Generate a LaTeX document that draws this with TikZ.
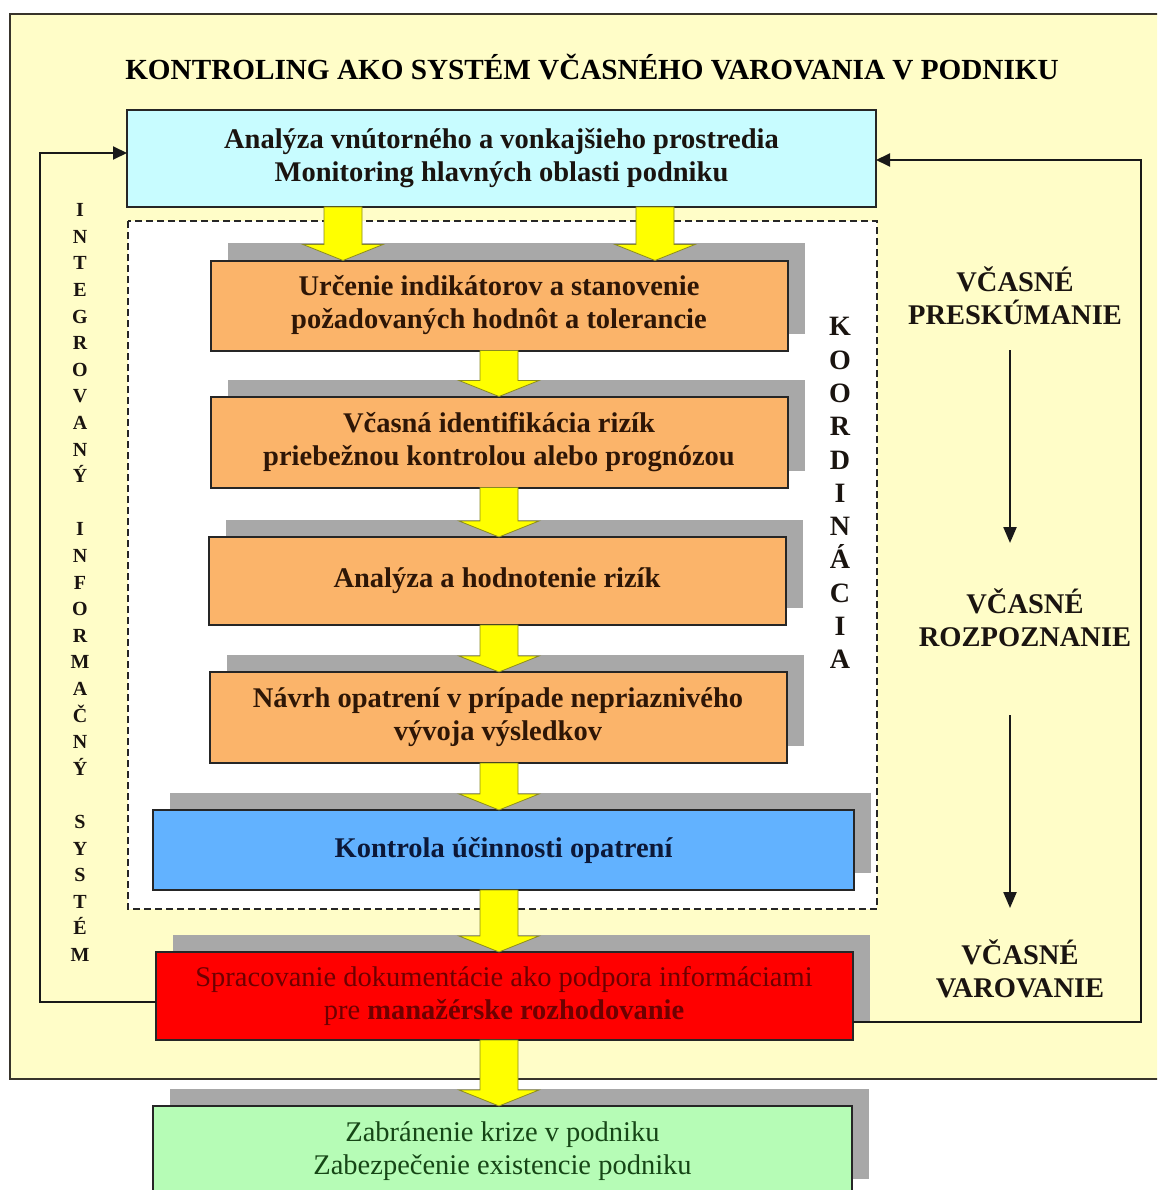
\documentclass[tikz,border=0pt]{standalone}
\usepackage{fontspec}
\setmainfont{Liberation Serif}
\usetikzlibrary{arrows.meta,shadows,calc}

\definecolor{framefill}{HTML}{FFFDC8}
\definecolor{cyanfill}{HTML}{C8FCFF}
\definecolor{orangefill}{HTML}{FBB46A}
\definecolor{bluefill}{HTML}{62B2FF}
\definecolor{redfill}{HTML}{FF0000}
\definecolor{greenfill}{HTML}{B6FCB6}
\definecolor{shadowgray}{HTML}{A8A8A8}
\definecolor{arrowyellow}{HTML}{FFFF00}
\definecolor{arrowedge}{HTML}{8A8A20}
\definecolor{darktext}{HTML}{1A1410}
\definecolor{browntext}{HTML}{2E1606}
\definecolor{navytext}{HTML}{0C1838}
\definecolor{maroontext}{HTML}{6E0000}
\definecolor{greentext}{HTML}{164616}

\newcommand{\bxfont}{\fontsize{28.5}{33}\selectfont\bfseries}

% yellow block arrow: #1 = x position, #2 = source node, #3 = target node
\newcommand{\yarr}[3]{%
  \filldraw[yarrowstyle] let \p1=(#2.south), \p2=(#3.north) in
    (#1pt-19pt,\y1) -- (#1pt+19pt,\y1) -- (#1pt+19pt,\y2+16pt) -- (#1pt+40pt,\y2+16pt)
    -- (#1pt,\y2) -- (#1pt-40pt,\y2+16pt) -- (#1pt-19pt,\y2+16pt) -- cycle;}

\begin{document}
\begin{tikzpicture}[x=1pt,y=-1pt,
  every node/.style={inner sep=0pt, outer sep=0pt},
  boxbase/.style={draw=black!85, line width=2pt, align=center, font=\bxfont},
  shadowed/.style={drop shadow={shadow xshift=17pt,shadow yshift=17pt,fill=shadowgray,opacity=1}},
  orangebox/.style={boxbase, shadowed, fill=orangefill, text=browntext,
    minimum width=577pt},
  yarrowstyle/.style={fill=arrowyellow, draw=arrowedge, line width=0.8pt},
  fbline/.style={draw=black!90, line width=2pt, -{Triangle[length=14pt,width=13pt]}},
  stageline/.style={draw=black!90, line width=2.2pt, -{Triangle[length=16pt,width=13pt]}},
  stagetext/.style={align=center, font=\fontsize{28.5}{33}\selectfont\bfseries, text=darktext},
]
\clip (0,0) rectangle (1157,1190);

% outer frame
\draw[fill=framefill, draw=black!80!olive, line width=2.5pt] (10,14) rectangle (1185,1079);

% title
\node[font=\fontsize{29.2}{33}\selectfont\bfseries, text=black] (title) at (592,67)
  {KONTROLING AKO SYSTÉM VČASNÉHO VAROVANIA V PODNIKU};

% coordination area
\draw[fill=white, draw=black!85, line width=1.8pt, dash pattern=on 7pt off 4pt]
  (128,221) rectangle (877,909);

% top analysis box
\node[boxbase, fill=cyanfill, text=darktext, minimum width=749pt, minimum height=97pt]
  (analyza) at (501.5,158.5)
  {Analýza vnútorného a vonkajšieho prostredia\\Monitoring hlavných oblasti podniku};

% process steps
\node[orangebox, minimum height=90pt] (urcenie) at (499,305.5)
  {Určenie indikátorov a stanovenie\\požadovaných hodnôt a tolerancie};
\node[orangebox, minimum height=91pt] (identif) at (499,442)
  {Včasná identifikácia rizík\\priebežnou kontrolou alebo prognózou};
\node[orangebox, minimum height=88pt] (hodnot) at (497,581)
  {Analýza a hodnotenie rizík};
\node[orangebox, minimum height=91pt] (navrh) at (498,717.5)
  {Návrh opatrení v prípade nepriaznivého\\vývoja výsledkov};
\node[boxbase, shadowed, fill=bluefill, text=navytext, minimum width=701pt, minimum height=80pt]
  (kontrola) at (503.5,850)
  {Kontrola účinnosti opatrení};
\node[boxbase, shadowed, fill=redfill, text=maroontext, font=\fontsize{28.5}{33}\selectfont,
  minimum width=697pt, minimum height=88pt] (spracovanie) at (504,996)
  {Spracovanie dokumentácie ako podpora informáciami\\pre \textbf{manažérske rozhodovanie}};
\node[boxbase, shadowed, fill=greenfill, text=greentext, font=\fontsize{28.5}{33}\selectfont,
  minimum width=699pt, minimum height=90pt] (kriza) at (502.5,1151)
  {Zabránenie krize v podniku\\Zabezpečenie existencie podniku};

% vertical labels
\node[anchor=north, align=center, font=\fontsize{20}{26.6}\selectfont\bfseries, text=darktext]
  (iis) at (80,203.5)
  {I\\N\\T\\E\\G\\R\\O\\V\\A\\N\\Ý\\[26.6pt]I\\N\\F\\O\\R\\M\\A\\Č\\N\\Ý\\[26.6pt]S\\Y\\S\\T\\É\\M};
\node[anchor=north, align=center, font=\fontsize{28}{33.3}\selectfont\bfseries, text=darktext]
  (koord) at (840,317.5)
  {K\\O\\O\\R\\D\\I\\N\\Á\\C\\I\\A};

% warning stages
\node[stagetext] (preskum) at (1015,296) {VČASNÉ\\PRESKÚMANIE};
\node[stagetext] (rozpoz) at (1025,618) {VČASNÉ\\ROZPOZNANIE};
\node[stagetext] (varov) at (1020,969) {VČASNÉ\\VAROVANIE};
\coordinate (s1a) at (1010,350);
\coordinate (s1b) at (1010,543);
\coordinate (s2a) at (1010,715);
\coordinate (s2b) at (1010,908);
\draw[stageline] (s1a) -- (s1b);
\draw[stageline] (s2a) -- (s2b);

% feedback loops
\draw[fbline] ([yshift=-6pt]spracovanie.west) -- ++(-116,0) |- ([yshift=5.5pt]analyza.west);
\draw[fbline] ([yshift=-26pt]spracovanie.east) -- ++(288,0) |- ([yshift=-1.5pt]analyza.east);

% block arrows between steps
\yarr{343}{analyza}{urcenie}
\yarr{655}{analyza}{urcenie}
\yarr{499}{urcenie}{identif}
\yarr{499}{identif}{hodnot}
\yarr{499}{hodnot}{navrh}
\yarr{499}{navrh}{kontrola}
\yarr{499}{kontrola}{spracovanie}
\yarr{499}{spracovanie}{kriza}
\end{tikzpicture}
\end{document}
